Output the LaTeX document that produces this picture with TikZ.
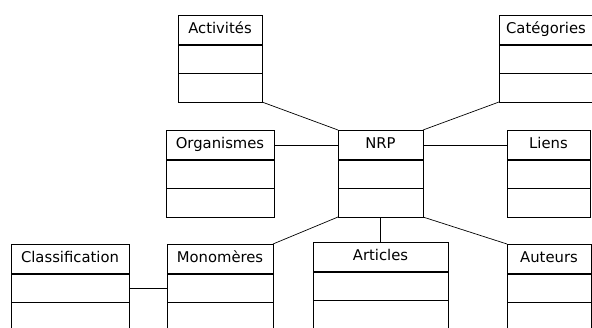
\documentclass[tikz,border=0pt]{standalone}
\usepackage{fontspec}
\setmainfont{DejaVu Sans}
\usetikzlibrary{positioning}
\tikzset{classhead/.style={draw, anchor=north west, minimum height=30pt, inner sep=0pt, outer sep=0pt, text height=11pt, text depth=4pt, font=\fontsize{14.8}{17}\selectfont},
  classpart/.style={draw, minimum height=28.5pt, inner sep=0pt, outer sep=0pt},
  divider/.style={line width=1.4pt}}

\begin{document}
\begin{tikzpicture}[x=1pt,y=-1pt,line width=0.7pt]
  \useasboundingbox (0,0) rectangle (592,327);
  \clip (0,0) rectangle (592,327);
  \foreach \n/\x/\y/\w/\t in {act/178/15/84/Activités, cat/499/15/94/Catégories,
      org/166/130/108/Organismes, nrp/338/130/85/NRP, liens/507/130/83/Liens,
      classif/11/244/118/Classification, mono/167/244/106/Monomères,
      art/313/242/135/Articles, aut/507/244/84/Auteurs} {
    \node[classhead, minimum width=\w pt] (\n) at (\x,\y) {\t};
    \node[classpart, minimum width=\w pt, below=0pt of \n] (\n-a) {};
    \node[classpart, minimum width=\w pt, below=0pt of \n-a] (\n-b) {};
    \draw[divider] (\n-a.north west) -- (\n-a.north east);
    \draw[divider] (\n-b.north west) -- (\n-b.north east);
  }
  \draw (act-b.south east) -- (nrp.north west);
  \draw (cat-b.south west) -- (nrp.north east);
  \draw (org.east) -- (nrp.west);
  \draw (nrp.east) -- (liens.west);
  \draw (nrp-b.south west) -- (mono.north east);
  \draw (nrp-b.south) -- (art.north);
  \draw (nrp-b.south east) -- (aut.north west);
  \draw (classif-a.east) -- (mono-a.west);
\end{tikzpicture}
\end{document}
